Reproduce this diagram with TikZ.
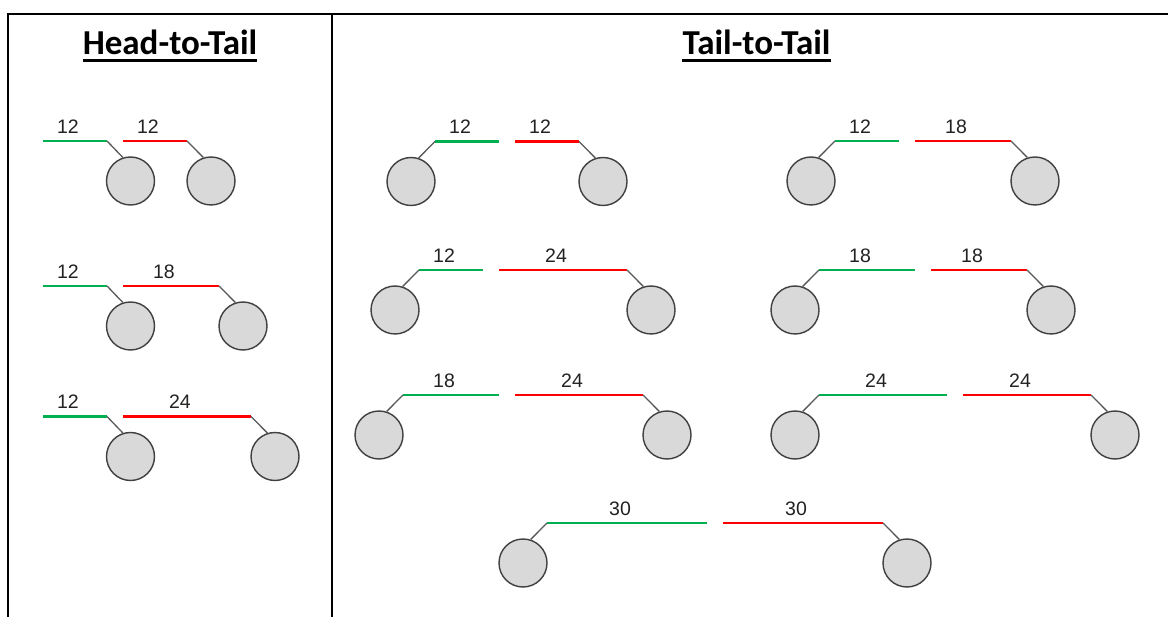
\documentclass[tikz,border=0pt]{standalone}
\usepackage{fontspec}
\setmainfont{Liberation Sans}
\newfontfamily\titlefont{Carlito}
\definecolor{lgreen}{HTML}{00B050}
\definecolor{lred}{HTML}{FF0000}
\definecolor{ballfill}{HTML}{D9D9D9}
\definecolor{balledge}{HTML}{404040}
\definecolor{stem}{HTML}{595959}
\definecolor{numcol}{HTML}{222222}
\tikzset{
  ball/.style={circle, draw=balledge, fill=ballfill, line width=1.4pt, minimum size=48pt, inner sep=0pt},
  gline/.style={draw=lgreen, line width=2.8pt},
  rline/.style={draw=lred, line width=2.8pt},
  stemline/.style={draw=stem, line width=1.3pt},
  num/.style={anchor=base, inner sep=0pt, font=\fontsize{19.5}{22}\selectfont, text=numcol},
  ttl/.style={anchor=base, inner sep=0pt, font=\titlefont\bfseries\fontsize{35}{40}\selectfont},
  frame/.style={draw=black, line width=2pt}
}
% head-to-tail row: #1 prefix, #2 y, #3 green length, #4 red length, #5 green label, #6 red label
\newcommand{\htrow}[6]{%
  \coordinate (#1gs) at (43,#2);
  \coordinate (#1ge) at ({43+#3},#2);
  \coordinate (#1rs) at ({43+#3+16},#2);
  \coordinate (#1re) at ({43+#3+16+#4},#2);
  \node[ball] (#1ca) at ({43+#3+23.5},{#2+40}) {};
  \node[ball] (#1cb) at ({43+#3+16+#4+24},{#2+40}) {};
  \draw[gline] (#1gs) -- (#1ge);
  \draw[rline] (#1rs) -- (#1re);
  \draw[stemline] (#1ge) -- (#1ca.108);
  \draw[stemline] (#1re) -- (#1cb.108);
  \node[num] (#1lg) at ({43+#3/2-7},{#2-7.5}) {#5};
  \node[num] (#1lr) at ({43+#3+16+#4/2-7},{#2-7.5}) {#6};
}
% tail-to-tail row: #1 prefix, #2 x start, #3 y, #4 green length, #5 red length, #6 green label, #7 red label
\newcommand{\ttrow}[7]{%
  \coordinate (#1gs) at (#2,#3);
  \coordinate (#1ge) at ({#2+#4},#3);
  \coordinate (#1rs) at ({#2+#4+16},#3);
  \coordinate (#1re) at ({#2+#4+16+#5},#3);
  \node[ball] (#1ca) at ({#2-24},{#3+40}) {};
  \node[ball] (#1cb) at ({#2+#4+16+#5+24},{#3+40}) {};
  \draw[gline] (#1gs) -- (#1ge);
  \draw[rline] (#1rs) -- (#1re);
  \draw[stemline] (#1ca.72) -- (#1gs);
  \draw[stemline] (#1re) -- (#1cb.108);
  \node[num] (#1lg) at ({#2+#4/2-7},{#3-7.5}) {#6};
  \node[num] (#1lr) at ({#2+#4+16+#5/2-7},{#3-7.5}) {#7};
}
\begin{document}
\begin{tikzpicture}[x=1pt,y=-1pt]
  \useasboundingbox (0,0) rectangle (1168,617);
  \fill[white] (0,0) rectangle (1168,617);
  % frame
  \coordinate (ftl) at (8,14.5);
  \coordinate (ftr) at (1168,14.5);
  \coordinate (fbl) at (8,617);
  \coordinate (dtop) at (332,14.5);
  \coordinate (dbot) at (332,617);
  \draw[frame] (fbl) -- (ftl) -- (ftr);
  \draw[frame] (dtop) -- (dbot);
  % titles
  \node[ttl] (h1) at (170,55) {Head-to-Tail};
  \node[ttl] (h2) at (756.5,55) {Tail-to-Tail};
  \draw[line width=2.5pt] ([yshift=-5.5pt]h1.base west) -- ([yshift=-5.5pt]h1.base east);
  \draw[line width=2.5pt] ([yshift=-5.5pt]h2.base west) -- ([yshift=-5.5pt]h2.base east);
  % head-to-tail
  \htrow{a}{141}{64}{64}{12}{12}
  \htrow{b}{286}{64}{96}{12}{18}
  \htrow{c}{416.5}{64}{128}{12}{24}
  % tail-to-tail
  \ttrow{d}{435}{141.5}{64}{64}{12}{12}
  \ttrow{e}{835}{141}{64}{96}{12}{18}
  \ttrow{f}{419}{270}{64}{128}{12}{24}
  \ttrow{g}{819}{270}{96}{96}{18}{18}
  \ttrow{h}{403}{395}{96}{128}{18}{24}
  \ttrow{i}{819}{395}{128}{128}{24}{24}
  \ttrow{j}{547}{523}{160}{160}{30}{30}
\end{tikzpicture}
\end{document}
